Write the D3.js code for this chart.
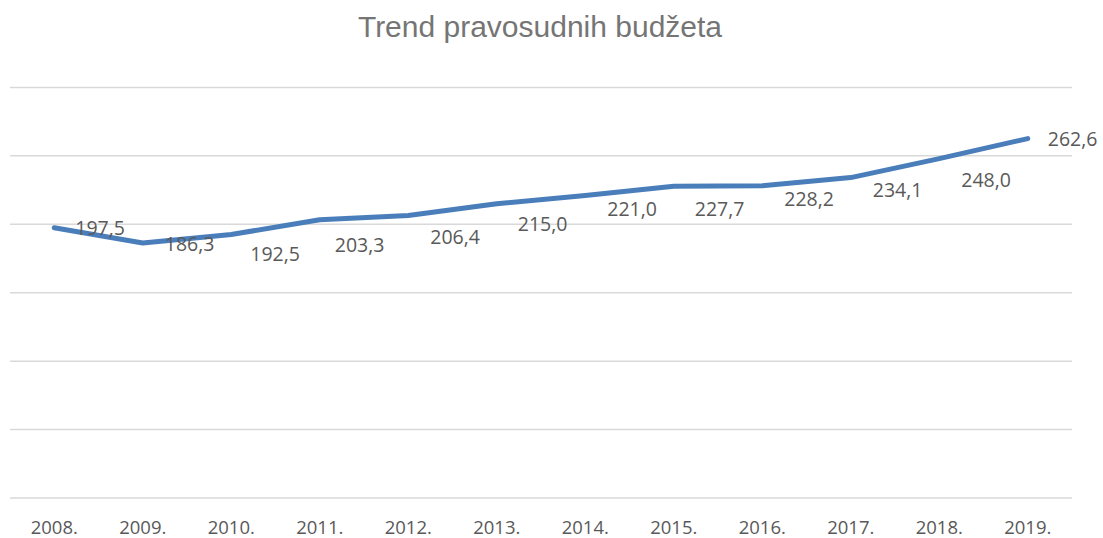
<!DOCTYPE html>
<html>
<head>
<meta charset="utf-8">
<script src="https://cdn.jsdelivr.net/npm/d3@7"></script>
<style>
  html, body { margin: 0; padding: 0; background: #fff; }
  svg { display: block; }
</style>
</head>
<body>
<svg id="chart" width="1103" height="538"></svg>
<script>
const title = "Trend pravosudnih budžeta";
const categories = ["2008.", "2009.", "2010.", "2011.", "2012.", "2013.", "2014.", "2015.", "2016.", "2017.", "2018.", "2019."];
const values = [197.5, 186.3, 192.5, 203.3, 206.4, 215.0, 221.0, 227.7, 228.2, 234.1, 248.0, 262.6];
const labels = ["197,5", "186,3", "192,5", "203,3", "206,4", "215,0", "221,0", "227,7", "228,2", "234,1", "248,0", "262,6"];
const gridTicks = [0, 50, 100, 150, 200, 250, 300];

// layout: label offsets (pixels) relative to each point, as placed in the original
const labelDx = [21, 22, 19, 15, 22, 21, 22, 21, 22, 22, 22, 20];
const labelDy = [0, 1, 20, 25, 22, 20, 14, 23, 14, 13, 22, 1];

const svg = d3.select("#chart");
const plotLeft = 10, plotRight = 1072, plotTop = 87.4, plotBottom = 498;

const x = d3.scaleBand().domain(categories).range([plotLeft, plotRight]).padding(0);
const y = d3.scaleLinear().domain([0, 300]).range([plotBottom, plotTop]);

// gridlines
svg.append("g").selectAll("line").data(gridTicks).join("line")
  .attr("x1", plotLeft).attr("x2", plotRight)
  .attr("y1", d => y(d)).attr("y2", d => y(d))
  .attr("stroke", "#d9d9d9").attr("stroke-width", 1.5);

// title
svg.append("text")
  .attr("x", 540).attr("y", 37)
  .attr("text-anchor", "middle")
  .attr("font-family", "'Liberation Sans', Arial, sans-serif")
  .attr("font-size", 30)
  .attr("fill", "#757575")
  .text(title);

// x axis labels
const xAxis = d3.axisBottom(x).tickSize(0).tickPadding(0);
const gx = svg.append("g").attr("transform", `translate(0,${plotBottom})`).call(xAxis);
gx.select(".domain").remove();
gx.selectAll("text")
  .attr("y", 36).attr("dy", 0)
  .attr("font-family", "'Open Sans', sans-serif")
  .attr("font-size", 18.5)
  .attr("fill", "#595959");

// line
const cx = d => x(d) + x.bandwidth() / 2;
const line = d3.line()
  .x((d, i) => cx(categories[i]))
  .y(d => y(d));
svg.append("path")
  .datum(values)
  .attr("d", line)
  .attr("fill", "none")
  .attr("stroke", "#4a7ebb")
  .attr("stroke-width", 5)
  .attr("stroke-linecap", "round")
  .attr("stroke-linejoin", "round");

// data labels
svg.append("g").selectAll("text").data(values).join("text")
  .attr("x", (d, i) => cx(categories[i]) + labelDx[i])
  .attr("y", (d, i) => y(d) + labelDy[i])
  .attr("dy", "0.35em")
  .attr("font-family", "'Open Sans', sans-serif")
  .attr("font-size", 19.5)
  .attr("fill", "#595959")
  .text((d, i) => labels[i]);
</script>
</body>
</html>
